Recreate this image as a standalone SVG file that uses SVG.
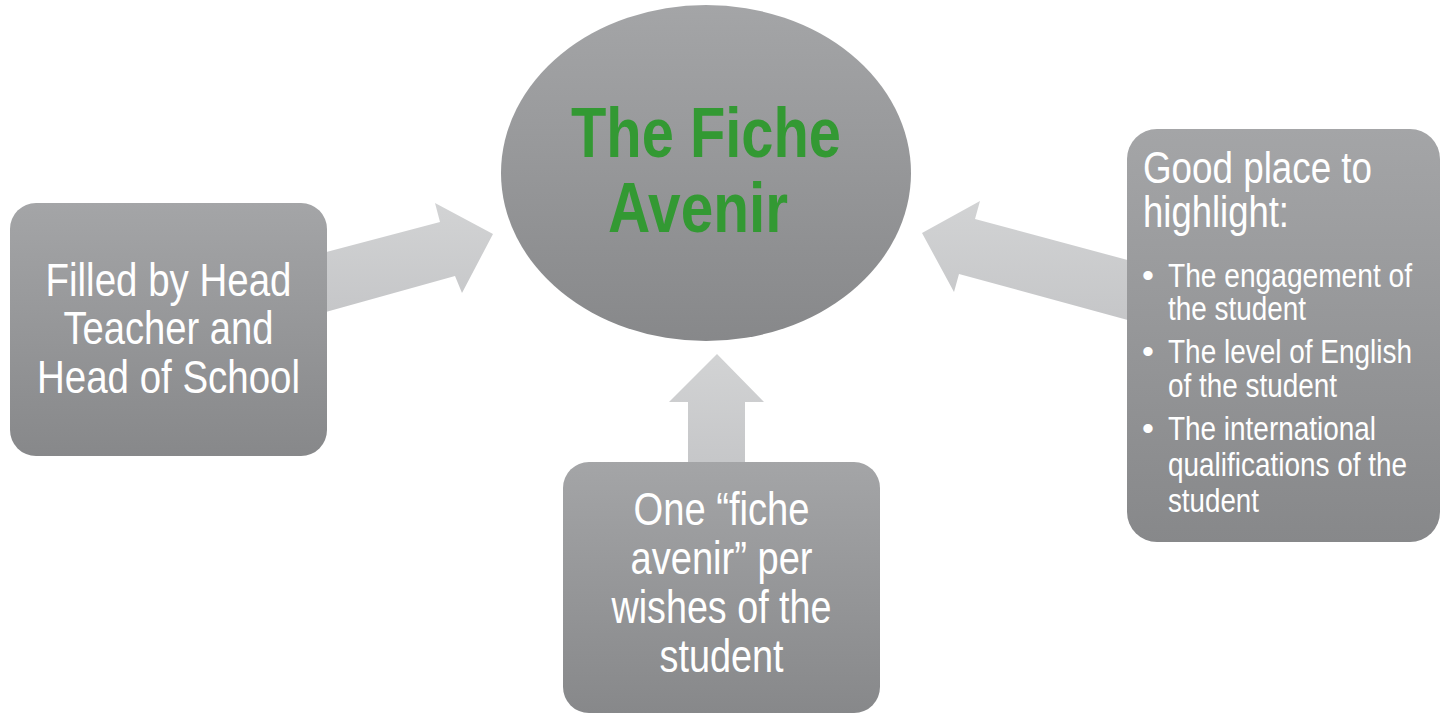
<svg xmlns="http://www.w3.org/2000/svg" width="1441" height="714" viewBox="0 0 1441 714">
  <defs>
    <linearGradient id="nodeGrad" x1="0" y1="0" x2="0" y2="1">
      <stop offset="0" stop-color="#a4a5a7"/>
      <stop offset="1" stop-color="#87888a"/>
    </linearGradient>
    <linearGradient id="arrowGrad" x1="0" y1="0" x2="0" y2="1">
      <stop offset="0" stop-color="#d2d3d4"/>
      <stop offset="1" stop-color="#c5c6c8"/>
    </linearGradient>
    <style>
      .node { fill: url(#nodeGrad); }
      .arrow { fill: url(#arrowGrad); }
      .lbl { font-family: "Liberation Sans Narrow", "Liberation Sans", Arial, sans-serif; fill: #ffffff; }
      .c { text-anchor: middle; }
      .big { font-size: 47px; }
      .head { font-size: 44px; }
      .bul { font-size: 34px; }
      .title { font-family: "Liberation Sans Narrow", "Liberation Sans", Arial, sans-serif; font-weight: bold; font-size: 70px; fill: #339933; text-anchor: middle; }
    </style>
  </defs>
  <rect width="1441" height="714" fill="#ffffff"/>

  <g id="connectors">
    <polygon class="arrow" points="315,255 440,222 435,203 493,234 462,293 455,276 315,315"/>
    <polygon class="arrow" points="1135,262 975,219 980,201 922,233 954,292 959,274 1135,322"/>
    <polygon class="arrow" points="688,470 688,402 669,402 717,354 764,402 745,402 745,470"/>
  </g>

  <g id="center">
    <ellipse class="node" cx="706" cy="173" rx="205" ry="168"/>
    <text class="title" x="706" y="157" textLength="270" lengthAdjust="spacingAndGlyphs">The Fiche</text>
    <text class="title" x="698" y="232" textLength="180" lengthAdjust="spacingAndGlyphs">Avenir</text>
  </g>

  <g id="left">
    <rect class="node" x="10" y="203" width="317" height="253" rx="26"/>
    <text class="lbl c big" x="168.5" y="296" textLength="246" lengthAdjust="spacingAndGlyphs">Filled by Head</text>
    <text class="lbl c big" x="168.5" y="344" textLength="210" lengthAdjust="spacingAndGlyphs">Teacher and</text>
    <text class="lbl c big" x="168.5" y="393" textLength="263" lengthAdjust="spacingAndGlyphs">Head of School</text>
  </g>

  <g id="bottom">
    <rect class="node" x="563" y="462" width="317" height="251" rx="26"/>
    <text class="lbl c big" x="721.5" y="525" textLength="176" lengthAdjust="spacingAndGlyphs">One “fiche</text>
    <text class="lbl c big" x="721.5" y="574" textLength="182" lengthAdjust="spacingAndGlyphs">avenir” per</text>
    <text class="lbl c big" x="721.5" y="623" textLength="220" lengthAdjust="spacingAndGlyphs">wishes of the</text>
    <text class="lbl c big" x="721.5" y="672" textLength="124" lengthAdjust="spacingAndGlyphs">student</text>
  </g>

  <g id="right">
    <rect class="node" x="1127" y="129" width="313" height="413" rx="30"/>
    <text class="lbl head" x="1143" y="183" textLength="229" lengthAdjust="spacingAndGlyphs">Good place to</text>
    <text class="lbl head" x="1143" y="227" textLength="146" lengthAdjust="spacingAndGlyphs">highlight:</text>
    <text class="lbl bul" x="1142" y="287">•</text>
    <text class="lbl bul" x="1168" y="287" textLength="244" lengthAdjust="spacingAndGlyphs">The engagement of</text>
    <text class="lbl bul" x="1168" y="320" textLength="138" lengthAdjust="spacingAndGlyphs">the student</text>
    <text class="lbl bul" x="1142" y="363">•</text>
    <text class="lbl bul" x="1168" y="363" textLength="244" lengthAdjust="spacingAndGlyphs">The level of English</text>
    <text class="lbl bul" x="1168" y="397" textLength="169" lengthAdjust="spacingAndGlyphs">of the student</text>
    <text class="lbl bul" x="1142" y="440">•</text>
    <text class="lbl bul" x="1168" y="440" textLength="208" lengthAdjust="spacingAndGlyphs">The international</text>
    <text class="lbl bul" x="1168" y="476" textLength="239" lengthAdjust="spacingAndGlyphs">qualifications of the</text>
    <text class="lbl bul" x="1168" y="512" textLength="91" lengthAdjust="spacingAndGlyphs">student</text>
  </g>
</svg>
